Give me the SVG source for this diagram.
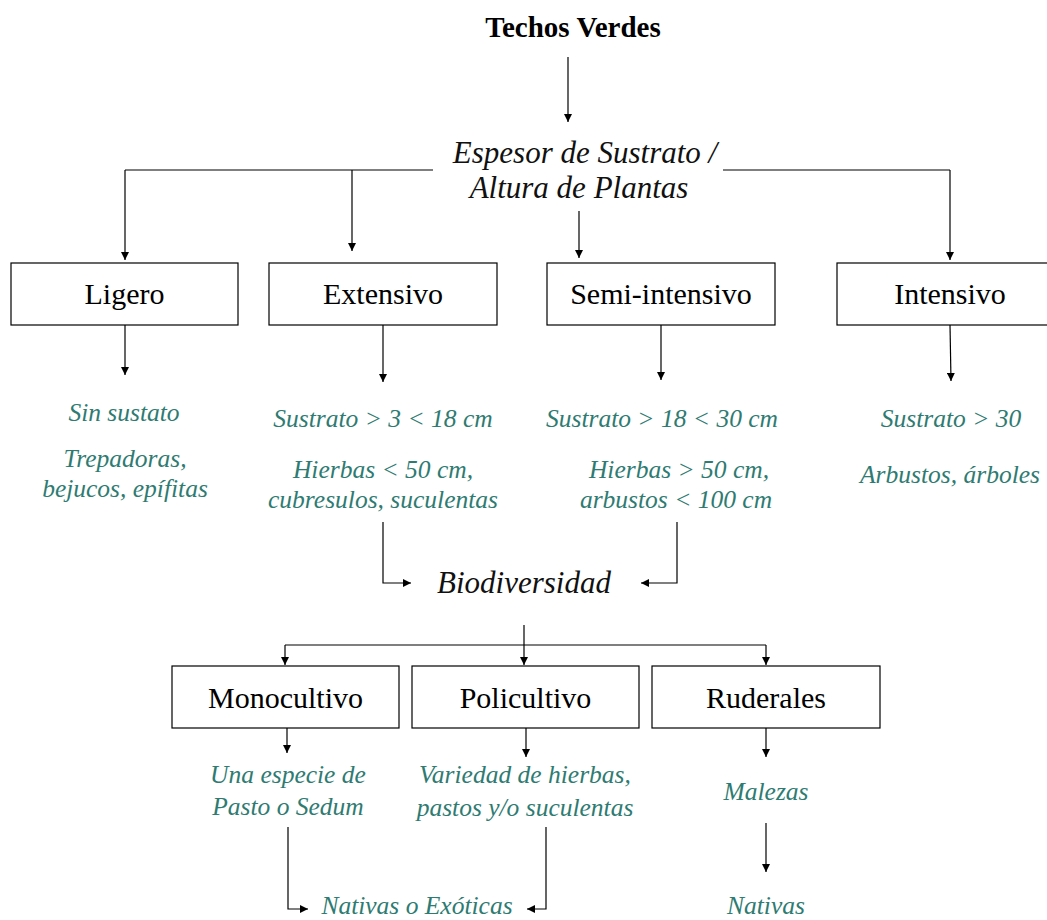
<svg xmlns="http://www.w3.org/2000/svg" width="1047" height="920" viewBox="0 0 1047 920">
<defs>
<marker id="ah" viewBox="0 0 10 10" refX="10" refY="5" markerWidth="8" markerHeight="8" markerUnits="userSpaceOnUse" orient="auto">
<path d="M0,0 L10,5 L0,10 z" fill="#000"/>
</marker>
<style>
.box{fill:#fff;stroke:#000;stroke-width:1.2}
.lbl{font-family:"Liberation Serif","Times New Roman",serif;font-size:30px;fill:#000;text-anchor:middle}
.hd{font-family:"Liberation Serif","Times New Roman",serif;font-size:31px;font-style:italic;fill:#111;text-anchor:middle}
.tl{font-family:"Liberation Serif","Times New Roman",serif;font-size:25.5px;font-style:italic;fill:#2e7b72;text-anchor:middle}
.c{fill:none;stroke:#000;stroke-width:1.2}
.ca{fill:none;stroke:#000;stroke-width:1.2;marker-end:url(#ah)}
</style>
</defs>
<rect width="1047" height="920" fill="#fff"/>
<g id="connectors">
<path class="ca" d="M568,57 V122"/>
<path class="c" d="M433,170 H125"/>
<path class="ca" d="M125,170 V260"/>
<path class="ca" d="M352,170 V251"/>
<path class="ca" d="M579,211 V258"/>
<path class="c" d="M723,170 H950"/>
<path class="ca" d="M950,170 V260"/>
<path class="ca" d="M125,325 V375"/>
<path class="ca" d="M383,325 V382"/>
<path class="ca" d="M661,325 V380"/>
<path class="ca" d="M950,325 L951,381"/>
<path class="ca" d="M383,522 V583 H411"/>
<path class="ca" d="M677,522 V583 H641"/>
<path class="c" d="M524,625 V645"/>
<path class="c" d="M285,645 H766"/>
<path class="ca" d="M524,645 V665"/>
<path class="ca" d="M285,645 V665"/>
<path class="ca" d="M766,645 V665"/>
<path class="ca" d="M287,728 V753"/>
<path class="ca" d="M526,728 V757"/>
<path class="ca" d="M766,728 V757"/>
<path class="ca" d="M766,823 V872"/>
<path class="ca" d="M288,827 V909 H308"/>
<path class="ca" d="M546,827 V909 H527"/>
</g>
<g id="techos-verdes">
<text x="573" y="37" font-family="'Liberation Serif','Times New Roman',serif" font-size="29" font-weight="bold" text-anchor="middle">Techos Verdes</text>
</g>
<g id="espesor">
<text class="hd" x="585" y="163">Espesor de Sustrato /</text>
<text class="hd" x="579" y="198">Altura de Plantas</text>
</g>
<g id="ligero">
<rect class="box" x="11" y="263" width="227" height="62"/>
<text class="lbl" x="124.5" y="304">Ligero</text>
</g>
<g id="extensivo">
<rect class="box" x="269" y="263" width="228" height="62"/>
<text class="lbl" x="383" y="304">Extensivo</text>
</g>
<g id="semi-intensivo">
<rect class="box" x="547" y="263" width="228" height="62"/>
<text class="lbl" x="661" y="304">Semi-intensivo</text>
</g>
<g id="intensivo">
<rect class="box" x="837" y="263" width="228" height="62"/>
<text class="lbl" x="950" y="304">Intensivo</text>
</g>
<g id="ligero-desc">
<text class="tl" x="124" y="421">Sin sustato</text>
<text class="tl" x="125" y="467">Trepadoras,</text>
<text class="tl" x="125" y="497">bejucos, epífitas</text>
</g>
<g id="extensivo-desc">
<text class="tl" x="383" y="427">Sustrato &gt; 3 &lt; 18 cm</text>
<text class="tl" x="383" y="478">Hierbas &lt; 50 cm,</text>
<text class="tl" x="383" y="508">cubresulos, suculentas</text>
</g>
<g id="semi-desc">
<text class="tl" x="662" y="427">Sustrato &gt; 18 &lt; 30 cm</text>
<text class="tl" x="679" y="478">Hierbas &gt; 50 cm,</text>
<text class="tl" x="676" y="508">arbustos &lt; 100 cm</text>
</g>
<g id="intensivo-desc">
<text class="tl" x="951" y="427">Sustrato &gt; 30</text>
<text class="tl" x="950" y="483">Arbustos, árboles</text>
</g>
<g id="biodiversidad">
<text class="hd" x="524" y="593">Biodiversidad</text>
</g>
<g id="monocultivo">
<rect class="box" x="172" y="666" width="227" height="62"/>
<text class="lbl" x="285.5" y="708">Monocultivo</text>
</g>
<g id="policultivo">
<rect class="box" x="412" y="666" width="227" height="62"/>
<text class="lbl" x="525.5" y="708">Policultivo</text>
</g>
<g id="ruderales">
<rect class="box" x="652" y="666" width="228" height="62"/>
<text class="lbl" x="766" y="708">Ruderales</text>
</g>
<g id="monocultivo-desc">
<text class="tl" x="288" y="783">Una especie de</text>
<text class="tl" x="288" y="815">Pasto o Sedum</text>
</g>
<g id="policultivo-desc">
<text class="tl" x="525" y="783">Variedad de hierbas,</text>
<text class="tl" x="525" y="816">pastos y/o suculentas</text>
</g>
<g id="ruderales-desc">
<text class="tl" x="766" y="800">Malezas</text>
</g>
<g id="nativas-exoticas">
<text class="tl" x="417" y="914">Nativas o Exóticas</text>
</g>
<g id="nativas">
<text class="tl" x="766" y="914">Nativas</text>
</g>
</svg>
